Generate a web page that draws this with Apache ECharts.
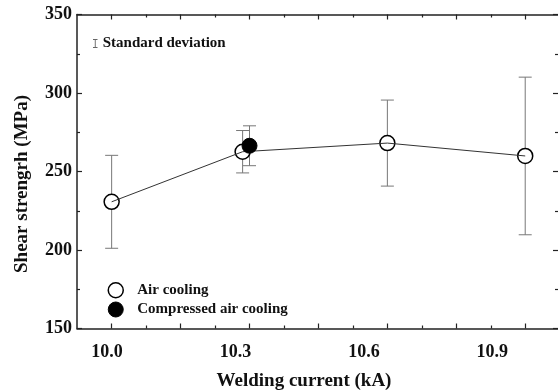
<!DOCTYPE html>
<html>
<head>
<meta charset="utf-8">
<script src="https://cdn.jsdelivr.net/npm/echarts@6/dist/echarts.min.js"></script>
<style>
  html, body { margin: 0; padding: 0; background: #fff; }
  #chart { width: 558px; height: 391px; }
</style>
</head>
<body>
<div id="chart"></div>
<script>
// Shear strength vs welding current, mean with standard deviation
const airCurrent = [10.0, 10.285, 10.6, 10.9];
const airStrength = [230.7, 262.6, 268.1, 259.9];
const airSD = [29.6, 13.5, 27.4, 50.2];

const compressedCurrent = [10.30];
const compressedStrength = [266.4];
const compressedSD = [12.7];

const xTickLabels = [10.0, 10.3, 10.6, 10.9];
const xMajorTicks = [10.0, 10.15, 10.3, 10.45, 10.6, 10.75, 10.9];
const xMinorTicks = [10.075, 10.225, 10.375, 10.525, 10.675, 10.825];

const FONT = '"Liberation Serif", "Times New Roman", serif';
const INK = '#111';

const airPoints = airCurrent.map((x, i) => [x, airStrength[i]]);
const compressedPoints = compressedCurrent.map((x, i) => [x, compressedStrength[i]]);
const errorBars = airCurrent.map((x, i) => [x, airStrength[i] - airSD[i], airStrength[i] + airSD[i]])
  .concat(compressedCurrent.map((x, i) => [x, compressedStrength[i] - compressedSD[i], compressedStrength[i] + compressedSD[i]]));

// plot frame: the right edge sits on the canvas border, only its ticks show
const GRID_LEFT = 77, GRID_WIDTH = 481.5;
const X_MIN = 9.9246;
const X_PER_PX = 0.15 / 69.0;
const X_MAX = X_MIN + GRID_WIDTH * X_PER_PX;
const LABEL_MIN = 9.930, LABEL_PER_PX = 0.3 / 128.6;
const LABEL_MAX = LABEL_MIN + GRID_WIDTH * LABEL_PER_PX;

const axisLineStyle = { color: '#222', width: 1.5 };

function tickAxis(position, values, len, showLine) {
  return {
    type: 'value', position: position, min: X_MIN, max: X_MAX,
    axisLine: { show: showLine, lineStyle: axisLineStyle },
    axisTick: { show: true, inside: true, length: len, customValues: values, lineStyle: { color: '#222', width: 1.2 } },
    axisLabel: { show: false },
    splitLine: { show: false }
  };
}

function yAxis(position, showLabels, showLine) {
  return {
    type: 'value', position: position, min: 150, max: 350, interval: 50,
    axisLine: { show: showLine, lineStyle: axisLineStyle },
    axisTick: { show: true, inside: true, length: 5, lineStyle: { color: '#222', width: 1.2 } },
    minorTick: { show: true, splitNumber: 2, length: 3, lineStyle: { color: '#222', width: 1.2 } },
    axisLabel: { show: showLabels, margin: 5, fontFamily: FONT, fontWeight: 'bold', fontSize: 18, color: INK },
    splitLine: { show: false }
  };
}

const chart = echarts.init(document.getElementById('chart'), null, { renderer: 'canvas' });

chart.setOption({
  animation: false,
  backgroundColor: '#fff',
  grid: { left: GRID_LEFT, top: 14.5, width: GRID_WIDTH, height: 314, containLabel: false },
  xAxis: [
    tickAxis('bottom', xMajorTicks, 5, true),
    tickAxis('bottom', xMinorTicks, 3, false),
    tickAxis('top', xMajorTicks, 5, true),
    tickAxis('top', xMinorTicks, 3, false),
    {
      // tick labels of the current axis
      type: 'value', position: 'bottom', min: LABEL_MIN, max: LABEL_MAX,
      axisLine: { show: false }, axisTick: { show: false }, splitLine: { show: false },
      axisLabel: {
        show: true, margin: 15, customValues: xTickLabels,
        formatter: v => v.toFixed(1),
        fontFamily: FONT, fontWeight: 'bold', fontSize: 18, color: INK
      }
    }
  ],
  yAxis: [yAxis('left', true, true), yAxis('right', false, false)],
  legend: [
    {
      data: [{ name: 'Standard deviation', icon: 'path://M0,0H5V1H0Z M2,0H3V10H2Z M0,9H5V10H0Z', itemStyle: { color: '#666' } }],
      left: 93, top: 36, itemWidth: 5, itemHeight: 9, padding: 0, selectedMode: false,
      textStyle: { fontFamily: FONT, fontWeight: 'bold', fontSize: 15, color: INK }
    },
    {
      data: [
        { name: 'Air cooling', icon: 'circle', itemStyle: { color: '#fff', borderColor: '#000', borderWidth: 1.5 } },
        { name: 'Compressed air cooling', icon: 'circle', itemStyle: { color: '#000', borderColor: '#000', borderWidth: 1 } }
      ],
      orient: 'vertical', left: 107.5, top: 282, itemWidth: 15, itemHeight: 15, itemGap: 3, padding: 0,
      selectedMode: false,
      textStyle: { fontFamily: FONT, fontWeight: 'bold', fontSize: 15, color: INK, padding: [0, 0, 0, 9] }
    }
  ],
  series: [
    {
      name: 'Standard deviation',
      type: 'custom',
      xAxisIndex: 0, yAxisIndex: 0,
      z: 1,
      itemStyle: { color: '#666' },
      data: errorBars,
      renderItem: function (params, api) {
        const top = api.coord([api.value(0), api.value(2)]);
        const bot = api.coord([api.value(0), api.value(1)]);
        const half = 6.5;
        const style = { stroke: '#777', lineWidth: 1, fill: null };
        return {
          type: 'group',
          children: [
            { type: 'line', shape: { x1: top[0], y1: top[1], x2: bot[0], y2: bot[1] }, style: style },
            { type: 'line', shape: { x1: top[0] - half, y1: top[1], x2: top[0] + half, y2: top[1] }, style: style },
            { type: 'line', shape: { x1: bot[0] - half, y1: bot[1], x2: bot[0] + half, y2: bot[1] }, style: style }
          ]
        };
      }
    },
    {
      name: 'Air cooling',
      type: 'scatter',
      xAxisIndex: 0, yAxisIndex: 0,
      z: 3,
      symbol: 'circle', symbolSize: 15,
      itemStyle: { color: '#fff', borderColor: '#000', borderWidth: 1.5, opacity: 1 },
      data: airPoints
    },
    {
      name: 'air-cooling-trend',
      type: 'line',
      xAxisIndex: 0, yAxisIndex: 0,
      z: 4,
      showSymbol: false,
      lineStyle: { color: '#333', width: 1 },
      data: airPoints
    },
    {
      name: 'Compressed air cooling',
      type: 'scatter',
      xAxisIndex: 0, yAxisIndex: 0,
      z: 5,
      symbol: 'circle', symbolSize: 15,
      itemStyle: { color: '#000', borderColor: '#000', borderWidth: 1, opacity: 1 },
      data: compressedPoints
    }
  ],
  graphic: [
    {
      type: 'text', x: 22, y: 184, rotation: Math.PI / 2,
      style: { text: 'Shear strengrh (MPa)', fontFamily: FONT, fontWeight: 'bold', fontSize: 19, fill: INK, textAlign: 'center', textVerticalAlign: 'middle' }
    },
    {
      type: 'text', x: 304, y: 381,
      style: { text: 'Welding current (kA)', fontFamily: FONT, fontWeight: 'bold', fontSize: 19, fill: INK, textAlign: 'center', textVerticalAlign: 'middle' }
    }
  ]
});
</script>
</body>
</html>
